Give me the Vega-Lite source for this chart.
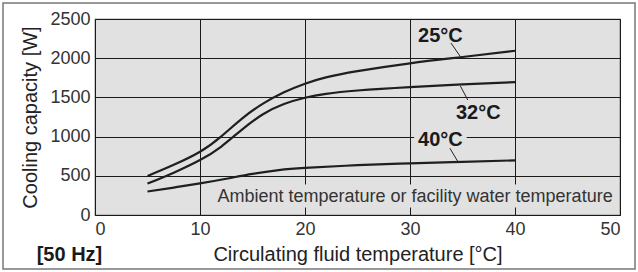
{
  "$schema": "https://vega.github.io/schema/vega-lite/v6.json",
  "autosize": "none",
  "width": 525,
  "height": 196,
  "padding": {"left": 95, "top": 19, "right": 18, "bottom": 57},
  "background": "white",
  "config": {
    "font": "Liberation Sans",
    "view": {"fill": "#e1e1e1", "stroke": "#555555", "strokeWidth": 1.2}
  },
  "datasets": {
    "curves": [
      {"x": 5, "y": 497, "ambient": "25°C"},
      {"x": 7.5, "y": 640, "ambient": "25°C"},
      {"x": 10, "y": 807, "ambient": "25°C"},
      {"x": 12, "y": 1000, "ambient": "25°C"},
      {"x": 14, "y": 1230, "ambient": "25°C"},
      {"x": 16, "y": 1420, "ambient": "25°C"},
      {"x": 18, "y": 1565, "ambient": "25°C"},
      {"x": 20, "y": 1675, "ambient": "25°C"},
      {"x": 22, "y": 1755, "ambient": "25°C"},
      {"x": 25, "y": 1835, "ambient": "25°C"},
      {"x": 30, "y": 1935, "ambient": "25°C"},
      {"x": 35, "y": 2015, "ambient": "25°C"},
      {"x": 40, "y": 2095, "ambient": "25°C"},
      {"x": 5, "y": 400, "ambient": "32°C"},
      {"x": 7.5, "y": 540, "ambient": "32°C"},
      {"x": 10, "y": 701, "ambient": "32°C"},
      {"x": 12, "y": 870, "ambient": "32°C"},
      {"x": 14, "y": 1090, "ambient": "32°C"},
      {"x": 16, "y": 1285, "ambient": "32°C"},
      {"x": 18, "y": 1415, "ambient": "32°C"},
      {"x": 20, "y": 1495, "ambient": "32°C"},
      {"x": 22, "y": 1545, "ambient": "32°C"},
      {"x": 25, "y": 1588, "ambient": "32°C"},
      {"x": 30, "y": 1632, "ambient": "32°C"},
      {"x": 35, "y": 1665, "ambient": "32°C"},
      {"x": 40, "y": 1695, "ambient": "32°C"},
      {"x": 5, "y": 300, "ambient": "40°C"},
      {"x": 7.5, "y": 350, "ambient": "40°C"},
      {"x": 10, "y": 403, "ambient": "40°C"},
      {"x": 12.5, "y": 462, "ambient": "40°C"},
      {"x": 15, "y": 525, "ambient": "40°C"},
      {"x": 17.5, "y": 572, "ambient": "40°C"},
      {"x": 20, "y": 600, "ambient": "40°C"},
      {"x": 25, "y": 635, "ambient": "40°C"},
      {"x": 30, "y": 659, "ambient": "40°C"},
      {"x": 35, "y": 678, "ambient": "40°C"},
      {"x": 40, "y": 697, "ambient": "40°C"}
    ],
    "leaders": [
      {"x": 33.9, "y": 2194, "x2": 34.8, "y2": 2020},
      {"x": 34.8, "y": 1645, "x2": 35.5, "y2": 1467},
      {"x": 33.8, "y": 851, "x2": 34.6, "y2": 672}
    ],
    "labels": [
      {"x": 32.9, "y": 2283, "text": "25°C"},
      {"x": 36.5, "y": 1305, "text": "32°C"},
      {"x": 32.9, "y": 957, "text": "40°C"}
    ]
  },
  "encoding": {
    "x": {"field": "x", "type": "quantitative", "scale": {"domain": [0, 50], "nice": false}, "axis": {"values": [0, 10, 20, 30, 40, 50], "format": "d", "labelOverlap": false, "grid": true, "gridColor": "#1a1a1a", "gridOpacity": 1, "gridWidth": 1, "ticks": false, "domain": false, "labelFontSize": 18, "labelColor": "#333333", "labelPadding": 5, "title": "Circulating fluid temperature [°C]", "titleFontSize": 20, "titleFontWeight": "normal", "titleColor": "#222222", "titlePadding": 6}},
    "y": {"field": "y", "type": "quantitative", "scale": {"domain": [0, 2500], "nice": false}, "axis": {"values": [0, 500, 1000, 1500, 2000, 2500], "format": "d", "labelOverlap": false, "grid": true, "gridColor": "#1a1a1a", "gridOpacity": 1, "gridWidth": 1, "ticks": false, "domain": false, "labelFontSize": 18, "labelColor": "#333333", "labelPadding": 5, "title": "Cooling capacity [W]", "titleFontSize": 20, "titleFontWeight": "normal", "titleColor": "#222222", "titlePadding": 9}}
  },
  "layer": [
    {
      "data": {"values": [{"x": -8.76, "x2": 51.43, "y": 2704, "y2": -689}]},
      "mark": {"type": "rect", "fill": null, "stroke": "#777777", "strokeWidth": 1.5, "clip": false},
      "encoding": {
        "x2": {"field": "x2"},
        "y2": {"field": "y2"}
      }
    },
    {
      "data": {"values": [{"x": 10.6, "x2": 49.6, "y": 390, "y2": 95}, {"x": 30.4, "x2": 35.4, "y": 1110, "y2": 880}]},
      "mark": {"type": "rect", "fill": "#e1e1e1"},
      "encoding": {
        "x2": {"field": "x2"},
        "y2": {"field": "y2"}
      }
    },
    {
      "data": {"name": "curves"},
      "mark": {"type": "line", "interpolate": "natural", "color": "#1f1f1f", "strokeWidth": 2.2},
      "encoding": {
        "detail": {"field": "ambient"}
      }
    },
    {
      "data": {"name": "leaders"},
      "mark": {"type": "rule", "color": "#222222", "strokeWidth": 1},
      "encoding": {
        "x2": {"field": "x2"},
        "y2": {"field": "y2"}
      }
    },
    {
      "data": {"name": "labels"},
      "mark": {"type": "text", "fontSize": 20, "fontWeight": "bold", "color": "#1a1a1a", "baseline": "middle", "align": "center"},
      "encoding": {
        "text": {"field": "text"}
      }
    },
    {
      "data": {"values": [{"x": 49.3, "y": 232, "text": "Ambient temperature or facility water temperature"}]},
      "mark": {"type": "text", "fontSize": 18, "color": "#333333", "baseline": "middle", "align": "right"},
      "encoding": {
        "text": {"field": "text"}
      }
    },
    {
      "data": {"values": [{"x": -2.43, "y": -510, "text": "[50 Hz]"}]},
      "mark": {"type": "text", "fontSize": 20, "fontWeight": "bold", "color": "#1a1a1a", "baseline": "middle", "align": "center", "clip": false},
      "encoding": {
        "text": {"field": "text"}
      }
    }
  ]
}
